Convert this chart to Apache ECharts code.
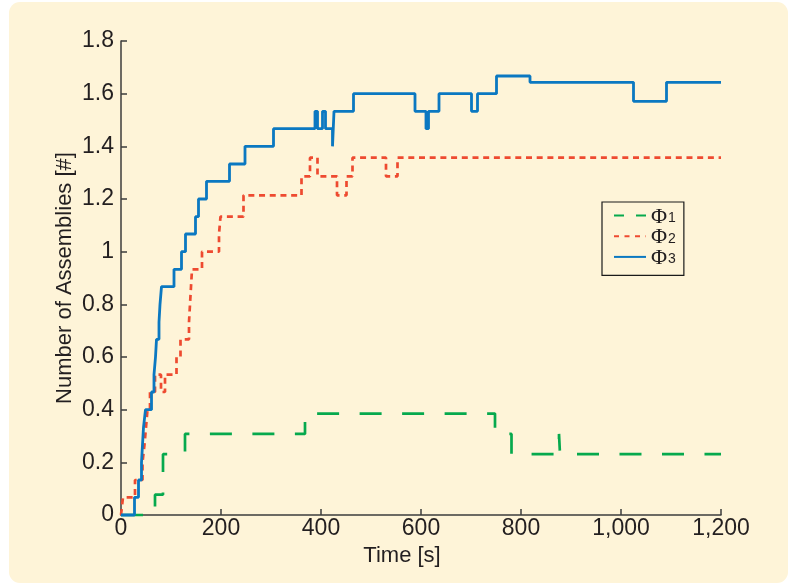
<!DOCTYPE html>
<html><head><meta charset="utf-8">
<script src="https://cdn.jsdelivr.net/npm/echarts@6/dist/echarts.min.js"></script>
<style>
html,body{margin:0;padding:0;background:#ffffff;}
#bg{position:absolute;left:9px;top:2px;width:779px;height:581px;background:#fef4d8;border-radius:11px;}
#c{position:absolute;left:0;top:0;width:788px;height:584px;}
</style></head><body><div id="bg"></div><div id="c"></div>
<script>
// x tick labels (seconds) and y tick labels
const xTicks = [0, 200, 400, 600, 800, 1000, 1200];
const yTicks = [0, 0.2, 0.4, 0.6, 0.8, 1, 1.2, 1.4, 1.6, 1.8];

const seriesNames = ['Φ1', 'Φ2', 'Φ3'];

// Φ1 (green, dashed): step times and values
const timeG = [0, 68, 84, 128, 368, 748, 781, 876, 878, 1200];
const valG  = [0, 0.077, 0.231, 0.308, 0.385, 0.308, 0.231, 0.308, 0.231, 0.231];

// Φ2 (red, dotted)
const timeR = [0, 4, 28, 43, 47, 50, 53, 58, 68, 80, 88, 111, 119, 136, 138, 140, 142, 162, 196, 199, 245, 361, 378, 393, 432, 451, 463, 530, 553, 1200];
const valR  = [0, 0.067, 0.133, 0.2, 0.267, 0.333, 0.4, 0.467, 0.533, 0.467, 0.533, 0.6, 0.667, 0.733, 0.8, 0.867, 0.933, 1.0, 1.067, 1.133, 1.214, 1.286, 1.357, 1.286, 1.214, 1.286, 1.357, 1.286, 1.357, 1.357];

// Φ3 (blue, solid)
const timeB = [0, 27, 35, 41, 43, 45, 49, 61, 66, 69, 71, 76, 78, 81, 106, 121, 129, 149, 155, 171, 217, 248, 305, 388, 393, 403, 409, 423, 426, 465, 588, 610, 615, 636, 701, 713, 751, 818, 1025, 1091, 1200];
const valB  = [0, 0.067, 0.133, 0.2, 0.267, 0.333, 0.4, 0.467, 0.533, 0.6, 0.667, 0.733, 0.8, 0.867, 0.933, 1.0, 1.067, 1.133, 1.2, 1.267, 1.333, 1.4, 1.467, 1.533, 1.467, 1.533, 1.467, 1.4, 1.533, 1.6, 1.533, 1.467, 1.533, 1.6, 1.533, 1.6, 1.667, 1.643, 1.571, 1.643, 1.643];

const pairs = (t, v) => t.map((x, i) => [x, v[i]]);

const FONT = "'Liberation Sans', Arial, sans-serif";
const TXT = '#231f20';
const AX = '#3c3c3c';

const chart = echarts.init(document.getElementById('c'), null, {renderer: 'canvas'});
chart.setOption({
  backgroundColor: 'transparent',
  animation: false,
  grid: {left: 121, right: 67, top: 41, bottom: 69, containLabel: false},
  xAxis: {
    type: 'value',
    min: xTicks[0], max: xTicks[xTicks.length - 1], interval: xTicks[1] - xTicks[0],
    name: 'Time [s]', nameLocation: 'middle', nameGap: 28,
    nameTextStyle: {fontFamily: FONT, fontSize: 22, color: TXT, padding: [0, 38, 0, 0]},
    axisLine: {show: true, lineStyle: {color: AX, width: 1.5}},
    axisTick: {show: true, inside: true, length: 6, lineStyle: {color: AX, width: 1.5}},
    axisLabel: {fontFamily: FONT, fontSize: 23, color: TXT, margin: 2,
      formatter: v => v.toLocaleString('en-US')},
    splitLine: {show: false}
  },
  yAxis: {
    type: 'value',
    min: yTicks[0], max: yTicks[yTicks.length - 1], interval: 0.2,
    name: 'Number of Assemblies [#]', nameLocation: 'middle', nameGap: 45, nameRotate: 90,
    nameMoveOverlap: false,
    nameTextStyle: {fontFamily: FONT, fontSize: 22, color: TXT},
    axisLine: {show: true, lineStyle: {color: AX, width: 1.5}},
    axisTick: {show: true, inside: true, length: 6, lineStyle: {color: AX, width: 1.5}},
    axisLabel: {fontFamily: FONT, fontSize: 23, color: TXT, margin: 7,
      formatter: v => String(Math.round(v * 10) / 10)},
    splitLine: {show: false}
  },
  legend: {
    orient: 'vertical', left: 602, top: 202,
    padding: [3, 8, 6, 11],
    itemWidth: 32, itemHeight: 2, itemGap: -2.3,
    borderColor: '#1a1a1a', borderWidth: 1.2, backgroundColor: '#fef4d8',
    itemStyle: {color: 'rgba(0,0,0,0)', borderColor: 'rgba(0,0,0,0)', borderWidth: 0, opacity: 0},
    data: [
      {name: seriesNames[0], lineStyle: {type: [10, 12]}},
      {name: seriesNames[1], lineStyle: {type: [5, 5.5]}},
      {name: seriesNames[2]}
    ],
    formatter: n => '{a|Φ}{b|' + n.slice(1) + '}',
    textStyle: {
      rich: {
        a: {fontFamily: "'Liberation Serif', serif", fontSize: 22, color: TXT, lineHeight: 19, verticalAlign: 'top'},
        b: {fontFamily: FONT, fontSize: 14, color: TXT, lineHeight: 13, padding: [6, 0, 0, 1], verticalAlign: 'bottom'}
      }
    }
  },
  series: [
    {name: seriesNames[0], type: 'line', step: 'end', showSymbol: false, symbol: 'none', clip: false,
     data: pairs(timeG, valG), lineStyle: {color: '#06a94d', width: 2.7, type: [22, 20.5], cap: 'butt'},
     itemStyle: {color: '#06a94d'}},
    {name: seriesNames[1], type: 'line', step: 'end', showSymbol: false, symbol: 'none', clip: false,
     data: pairs(timeR, valR), lineStyle: {color: '#ee4a30', width: 2.7, type: [6, 4.7], cap: 'butt'},
     itemStyle: {color: '#ee4a30'}},
    {name: seriesNames[2], type: 'line', step: 'end', showSymbol: false, symbol: 'none', clip: false,
     data: pairs(timeB, valB), lineStyle: {color: '#0b78c1', width: 2.8, type: 'solid'},
     itemStyle: {color: '#0b78c1'}}
  ]
});
</script></body></html>
